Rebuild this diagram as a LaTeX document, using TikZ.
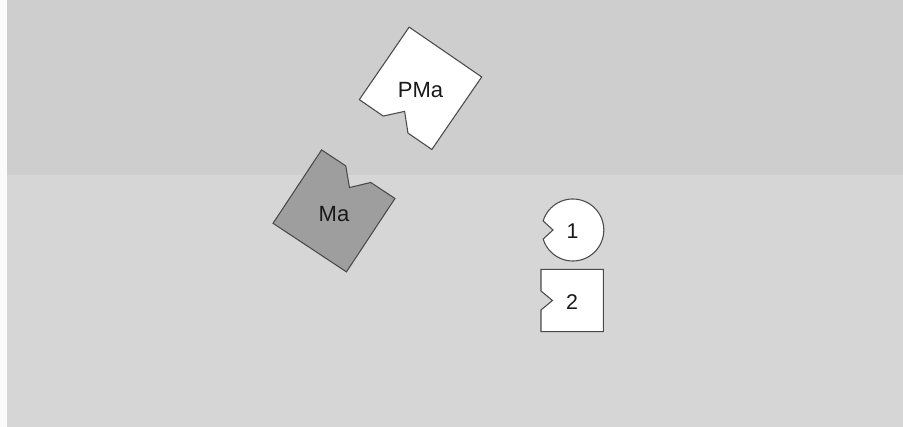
\documentclass[tikz,border=0pt]{standalone}
\usepackage{fontspec}
\setmainfont{Liberation Sans}
\definecolor{bgtop}{HTML}{CECECE}
\definecolor{bgbot}{HTML}{D6D6D6}
\definecolor{edge}{HTML}{4A4A4A}
\definecolor{magray}{HTML}{9E9E9E}
\tikzset{
  piece/.style={draw=edge, line width=0.8pt, line join=miter},
  biglabel/.style={font=\fontsize{16.5}{18}\selectfont, text=black!90, inner sep=0pt},
  smalllabel/.style={font=\fontsize{16}{18}\selectfont, text=black!90, inner sep=0pt}
}
\begin{document}
\begin{tikzpicture}[x=0.75pt,y=0.75pt]
% background
\fill[bgbot] (0,0) rectangle (903,427);
\fill[bgtop] (0,252) rectangle (903,427);
\fill[white!90!bgbot] (0,0) rectangle (7,427);
\useasboundingbox (0,0) rectangle (903,427);

% PMa piece (white, notch on lower-left side)
\begin{scope}[shift={(420.5,338.7)}, rotate=-34.5]
  \draw[piece, fill=white] (-44,44) -- (44,44) -- (44,-44) -- (15,-44) -- (0,-28) -- (-15,-44) -- (-44,-44) -- cycle;
\end{scope}
\node[biglabel] (pma) at (420.5,337) {PMa};

% Ma piece (gray, notch on upper-right side)
\begin{scope}[shift={(334,216.1)}, rotate=-33.5]
  \draw[piece, fill=magray] (-44,44) -- (-15,44) -- (0,28) -- (15,44) -- (44,44) -- (44,-44) -- (-44,-44) -- cycle;
\end{scope}
\node[biglabel] (ma) at (334,213) {Ma};

% piece 1: notched circle
\draw[piece, fill=white] (572.8,197) ++(163:31) arc[start angle=163, end angle=-163, radius=31] -- (553,197) -- cycle;
\node[smalllabel] (one) at (572.5,196) {1};

% piece 2: notched square
\draw[piece, fill=white] (541,157.7) -- (603.3,157.7) -- (603.3,95.3) -- (541,95.3) -- (541,117) -- (552.5,126.5) -- (541,136) -- cycle;
\node[smalllabel] (two) at (572,125) {2};
\end{tikzpicture}
\end{document}
